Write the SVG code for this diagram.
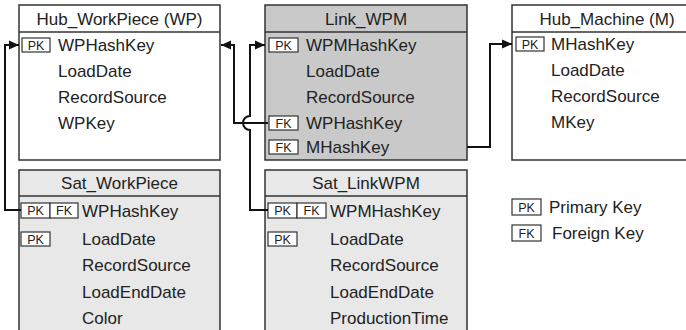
<svg xmlns="http://www.w3.org/2000/svg" width="686" height="330" viewBox="0 0 686 330">
<defs>
<marker id="arr" markerUnits="userSpaceOnUse" markerWidth="10" markerHeight="10" viewBox="0 0 10 10" refX="10" refY="5" orient="auto">
<path d="M0,0.5 L10,5 L0,9.5 Z" fill="#111"/>
</marker>
<style>
.box{stroke:#333;stroke-width:1.5}
.hub{fill:#fff}
.link{fill:#c9c9c9}
.sat{fill:#e8e8e8}
.t{font-family:"Liberation Sans",Arial,sans-serif;font-size:17px;fill:#222}
.h{text-anchor:middle}
.k{fill:#fff;stroke:#333;stroke-width:1.2}
.kt{font-family:"Liberation Sans",Arial,sans-serif;font-size:12.5px;fill:#222;text-anchor:middle}
.c{fill:none;stroke:#111;stroke-width:2}
</style>
</defs>

<g id="hub_workpiece">
<rect class="box hub" x="19" y="5" width="201" height="155"/>
<line class="box" x1="19" y1="32" x2="220" y2="32"/>
<text class="t h" x="119.5" y="25">Hub_WorkPiece (WP)</text>
<rect class="k" x="22" y="38" width="28" height="14"/><text class="kt" x="36" y="49.5">PK</text>
<text class="t" x="58" y="51">WPHashKey</text>
<text class="t" x="58" y="77">LoadDate</text>
<text class="t" x="58" y="103">RecordSource</text>
<text class="t" x="58" y="129">WPKey</text>
</g>

<g id="link_wpm">
<rect class="box link" x="265" y="5" width="202" height="155"/>
<line class="box" x1="265" y1="32" x2="467" y2="32"/>
<text class="t h" x="366" y="25">Link_WPM</text>
<rect class="k" x="269" y="38" width="29" height="14"/><text class="kt" x="283.5" y="49.5">PK</text>
<text class="t" x="306" y="51">WPMHashKey</text>
<text class="t" x="306" y="77">LoadDate</text>
<text class="t" x="306" y="103">RecordSource</text>
<rect class="k" x="269" y="116" width="29" height="14"/><text class="kt" x="283.5" y="127.5">FK</text>
<text class="t" x="306" y="129">WPHashKey</text>
<rect class="k" x="269" y="140" width="29" height="14"/><text class="kt" x="283.5" y="151.5">FK</text>
<text class="t" x="306" y="153">MHashKey</text>
</g>

<g id="hub_machine">
<rect class="box hub" x="512" y="5" width="190" height="155"/>
<line class="box" x1="512" y1="32" x2="702" y2="32"/>
<text class="t h" x="607" y="25">Hub_Machine (M)</text>
<rect class="k" x="516" y="37" width="28" height="14"/><text class="kt" x="530" y="48.5">PK</text>
<text class="t" x="551" y="50">MHashKey</text>
<text class="t" x="551" y="76">LoadDate</text>
<text class="t" x="551" y="102">RecordSource</text>
<text class="t" x="551" y="128">MKey</text>
</g>

<g id="sat_workpiece">
<rect class="box sat" x="19" y="170" width="201" height="170"/>
<line class="box" x1="19" y1="196" x2="220" y2="196"/>
<text class="t h" x="119.5" y="189">Sat_WorkPiece</text>
<rect class="k" x="21" y="203" width="29" height="15"/><text class="kt" x="35.5" y="215">PK</text>
<rect class="k" x="50" y="203" width="28" height="15"/><text class="kt" x="64" y="215">FK</text>
<text class="t" x="82" y="217">WPHashKey</text>
<rect class="k" x="21" y="232" width="29" height="14"/><text class="kt" x="35.5" y="243.5">PK</text>
<text class="t" x="82" y="245">LoadDate</text>
<text class="t" x="82" y="271">RecordSource</text>
<text class="t" x="82" y="298">LoadEndDate</text>
<text class="t" x="82" y="324">Color</text>
</g>

<g id="sat_linkwpm">
<rect class="box sat" x="265" y="170" width="202" height="170"/>
<line class="box" x1="265" y1="196" x2="467" y2="196"/>
<text class="t h" x="366" y="189">Sat_LinkWPM</text>
<rect class="k" x="268" y="203" width="29" height="15"/><text class="kt" x="282.5" y="215">PK</text>
<rect class="k" x="297" y="203" width="29" height="15"/><text class="kt" x="311.5" y="215">FK</text>
<text class="t" x="330" y="217">WPMHashKey</text>
<rect class="k" x="268" y="232" width="29" height="14"/><text class="kt" x="282.5" y="243.5">PK</text>
<text class="t" x="330" y="245">LoadDate</text>
<text class="t" x="330" y="271">RecordSource</text>
<text class="t" x="330" y="298">LoadEndDate</text>
<text class="t" x="330" y="324">ProductionTime</text>
</g>

<g id="legend">
<rect class="k" x="512" y="199" width="29" height="16"/><text class="kt" x="526.5" y="211.5">PK</text>
<text class="t" x="549" y="213">Primary Key</text>
<rect class="k" x="512" y="225" width="29" height="16"/><text class="kt" x="526.5" y="237.5">FK</text>
<text class="t" x="552" y="239">Foreign Key</text>
</g>

<g id="connectors">
<path class="c" d="M21,210 H5 V45 H19" marker-end="url(#arr)"/>
<path class="c" d="M268,123 H234 V45 H221" marker-end="url(#arr)"/>
<path class="c" d="M268,210 H250 V130 A7,7 0 0 1 250,116 V45 H265" marker-end="url(#arr)"/>
<path class="c" d="M467,147 H490 V44 H512" marker-end="url(#arr)"/>
</g>
</svg>
